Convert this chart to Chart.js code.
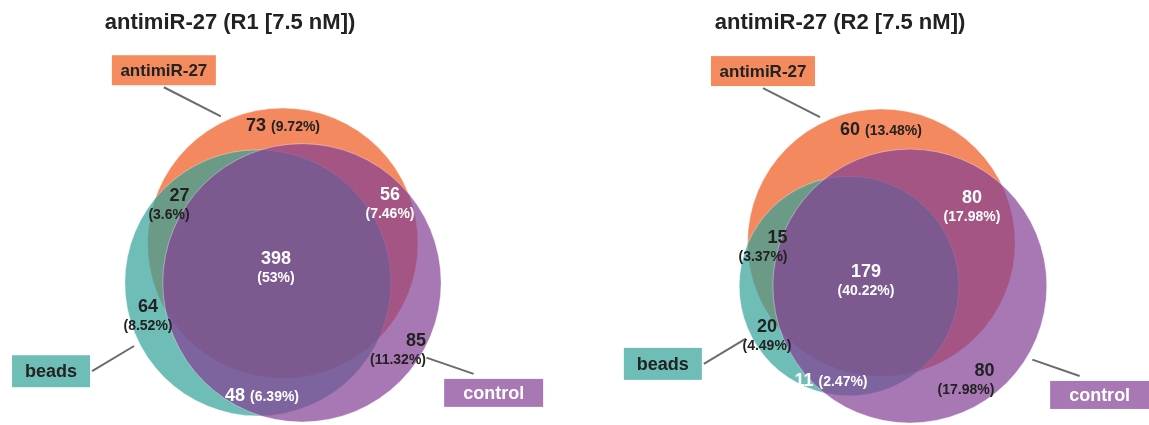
<!DOCTYPE html>
<html>
<head>
<meta charset="utf-8">
<script src="https://cdn.jsdelivr.net/npm/chart.js@4"></script>
<style>
  html, body { margin: 0; padding: 0; background: #fff; }
  #wrap { width: 1149px; height: 425px; }
</style>
</head>
<body>
<div id="wrap"><canvas id="venn"></canvas></div>
<script>
// regions: antimiR-27 only, beads only, control only, A&B, A&C, B&C, all three
const setNames = ["antimiR-27", "beads", "control"];
const regionKeys = ["100", "010", "001", "110", "101", "011", "111"];
const panelTitles = ["antimiR-27 (R1 [7.5 nM])", "antimiR-27 (R2 [7.5 nM])"];
const countsR1 = [73, 64, 85, 27, 56, 48, 398];
const countsR2 = [60, 20, 80, 15, 80, 11, 179];

// styles
const FONT = '"Liberation Sans", Arial, sans-serif';
const circleColors = ["rgba(239,86,26,0.7)", "rgba(49,161,152,0.7)", "rgba(131,62,148,0.7)"];
const boxColors = ["#f48b5e", "#6fbdb7", "#a878b4"];
const boxTextColors = ["#222", "#222", "#fff"];
const boxWidths = [104, 78, 99];
const boxHeights = [30, 32, 28];
// leader line: start angle on circle, line direction, length; box centre offset from line end
const leadStart = [-116, 153, 31];
const leadDir = [-153, 149, 19];
const leadLen = [64, 49, 50];
const boxOffset = [[0, -17], [-41, 0], [20, 19]];
const regionTextColors = ["#222", "#222", "#222", "#222", "#fff", "#fff", "#fff"];
const oneLine = ["100", "011"];
const rightAligned = ["110", "001"];
const panelCenters = [[283, 265], [893, 266]];

function lensArea(r1, r2, d) {
  if (d >= r1 + r2) return 0;
  if (d <= Math.abs(r1 - r2)) return Math.PI * Math.min(r1, r2) ** 2;
  const a1 = Math.acos((d * d + r1 * r1 - r2 * r2) / (2 * d * r1));
  const a2 = Math.acos((d * d + r2 * r2 - r1 * r1) / (2 * d * r2));
  return r1 * r1 * a1 + r2 * r2 * a2 -
    0.5 * Math.sqrt((-d + r1 + r2) * (d + r1 - r2) * (d - r1 + r2) * (d + r1 + r2));
}

function distFor(r1, r2, area) {
  let lo = Math.abs(r1 - r2), hi = r1 + r2;
  for (let i = 0; i < 60; i++) {
    const mid = (lo + hi) / 2;
    if (lensArea(r1, r2, mid) > area) lo = mid; else hi = mid;
  }
  return (lo + hi) / 2;
}

// area proportional circles, fitted into a 330 x 314 box
function layout(counts, center) {
  const [a, b, c, ab, ac, bc, abc] = counts;
  const sizes = [a + ab + ac + abc, b + ab + bc + abc, c + ac + bc + abc];
  const r = sizes.map(n => Math.sqrt(n / Math.PI));
  const dAB = distFor(r[0], r[1], ab + abc);
  const dAC = distFor(r[0], r[2], ac + abc);
  const dBC = distFor(r[1], r[2], bc + abc);
  const ax = (dAB * dAB + dBC * dBC - dAC * dAC) / (2 * dBC);
  const ay = -Math.sqrt(Math.max(0, dAB * dAB - ax * ax));
  const pts = [{ x: ax, y: ay, r: r[0] }, { x: 0, y: 0, r: r[1] }, { x: dBC, y: 0, r: r[2] }];
  const minX = Math.min(...pts.map(p => p.x - p.r)), maxX = Math.max(...pts.map(p => p.x + p.r));
  const minY = Math.min(...pts.map(p => p.y - p.r)), maxY = Math.max(...pts.map(p => p.y + p.r));
  const s = Math.min(330 / (maxX - minX), 314 / (maxY - minY));
  const mx = (minX + maxX) / 2, my = (minY + maxY) / 2;
  return pts.map(p => ({ x: center[0] + (p.x - mx) * s, y: center[1] + (p.y - my) * s, r: p.r * s }));
}

// point in each region farthest from any circle edge
function regionAnchors(circles) {
  const best = regionKeys.map(() => ({ d: -1, x: 0, y: 0 }));
  const x0 = Math.floor(Math.min(...circles.map(c => c.x - c.r)));
  const x1 = Math.ceil(Math.max(...circles.map(c => c.x + c.r)));
  const y0 = Math.floor(Math.min(...circles.map(c => c.y - c.r)));
  const y1 = Math.ceil(Math.max(...circles.map(c => c.y + c.r)));
  const topX = Math.round(circles[0].x);
  for (let y = y0; y <= y1; y++) {
    for (let x = x0; x <= x1; x++) {
      const dist = circles.map(c => Math.hypot(x - c.x, y - c.y));
      const key = dist.map((d, i) => d < circles[i].r ? "1" : "0").join("");
      const k = regionKeys.indexOf(key);
      if (k < 0) continue;
      if (key === "100" && x !== topX) continue;
      const edge = Math.min(...dist.map((d, i) => Math.abs(d - circles[i].r)));
      if (edge > best[k].d) best[k] = { d: edge, x: x, y: y };
    }
  }
  return best;
}

const panels = [countsR1, countsR2].map((counts, i) => {
  const circles = layout(counts, panelCenters[i]);
  return { counts, circles, anchors: regionAnchors(circles), total: counts.reduce((s, v) => s + v, 0) };
});

function pct(n, total) {
  return "(" + parseFloat((n / total * 100).toFixed(2)) + "%)";
}

const textPlugin = {
  id: "vennText",
  afterDatasetsDraw(chart) {
    const ctx = chart.ctx;
    const X = v => chart.scales.x.getPixelForValue(v);
    const Y = v => chart.scales.y.getPixelForValue(v);
    const unit = X(1) - X(0);
    ctx.save();
    ctx.textBaseline = "middle";
    panels.forEach((p, pi) => {
      // title
      ctx.fillStyle = "#222";
      ctx.textAlign = "center";
      ctx.font = "bold 22px " + FONT;
      ctx.fillText(panelTitles[pi], X(panelCenters[pi][0] - 53), Y(23));

      // set labels
      p.circles.forEach((c, si) => {
        const a0 = leadStart[si] * Math.PI / 180;
        const a1 = leadDir[si] * Math.PI / 180;
        const sx = c.x + Math.cos(a0) * (c.r + 6);
        const sy = c.y + Math.sin(a0) * (c.r + 6);
        const ex = sx + Math.cos(a1) * leadLen[si];
        const ey = sy + Math.sin(a1) * leadLen[si];
        ctx.strokeStyle = "#6b6b6b";
        ctx.lineWidth = 2;
        ctx.beginPath();
        ctx.moveTo(X(sx), Y(sy));
        ctx.lineTo(X(ex), Y(ey));
        ctx.stroke();
        const bx = ex + boxOffset[si][0], by = ey + boxOffset[si][1];
        const hw = boxWidths[si] / 2, hh = boxHeights[si] / 2;
        ctx.fillStyle = boxColors[si];
        ctx.fillRect(X(bx - hw), Y(by - hh), 2 * hw * unit, 2 * hh * unit);
        ctx.fillStyle = boxTextColors[si];
        ctx.textAlign = "center";
        ctx.font = (si === 0 ? "bold 17px " : "bold 18px ") + FONT;
        ctx.fillText(setNames[si], X(bx), Y(by + 1));
      });

      // region counts
      regionKeys.forEach((key, k) => {
        const a = p.anchors[k];
        const num = String(p.counts[k]);
        const per = pct(p.counts[k], p.total);
        ctx.fillStyle = regionTextColors[k];
        if (oneLine.includes(key)) {
          ctx.font = "bold 18px " + FONT;
          const w1 = ctx.measureText(num + " ").width;
          ctx.font = "bold 14px " + FONT;
          const w2 = ctx.measureText(per).width;
          const left = X(a.x) - (w1 + w2) / 2;
          ctx.textAlign = "left";
          ctx.font = "bold 18px " + FONT;
          ctx.fillText(num, left, Y(a.y));
          ctx.font = "bold 14px " + FONT;
          ctx.fillText(per, left + w1, Y(a.y + 1));
        } else {
          ctx.font = "bold 14px " + FONT;
          const w2 = ctx.measureText(per).width;
          if (rightAligned.includes(key)) {
            ctx.textAlign = "right";
            const right = X(a.x) + w2 / 2;
            ctx.font = "bold 18px " + FONT;
            ctx.fillText(num, right, Y(a.y - 9));
            ctx.font = "bold 14px " + FONT;
            ctx.fillText(per, right, Y(a.y + 10));
          } else {
            ctx.textAlign = "center";
            ctx.font = "bold 18px " + FONT;
            ctx.fillText(num, X(a.x), Y(a.y - 9));
            ctx.font = "bold 14px " + FONT;
            ctx.fillText(per, X(a.x), Y(a.y + 10));
          }
        }
      });
    });
    ctx.restore();
  }
};

const ctx = document.getElementById("venn");

new Chart(ctx, {
  type: "scatter",
  data: {
    datasets: panels.map((p, pi) => ({
      label: panelTitles[pi],
      data: p.circles,
      pointBackgroundColor: circleColors,
      pointBorderColor: "rgba(255,255,255,0.45)",
      pointBorderWidth: 0.8,
      pointRadius: (c) => {
        const s = c.chart.scales.x;
        return s.getPixelForValue(c.raw.r) - s.getPixelForValue(0);
      },
    })),
  },
  options: {
    responsive: true,
    maintainAspectRatio: false,
    animation: false,
    events: [],
    layout: { padding: 0 },
    scales: {
      x: { type: "linear", min: 0, max: 1149, display: false },
      y: { type: "linear", min: 0, max: 425, reverse: true, display: false },
    },
    plugins: {
      legend: { display: false },
      tooltip: { enabled: false },
    },
  },
  plugins: [textPlugin],
});
</script>
</body>
</html>
